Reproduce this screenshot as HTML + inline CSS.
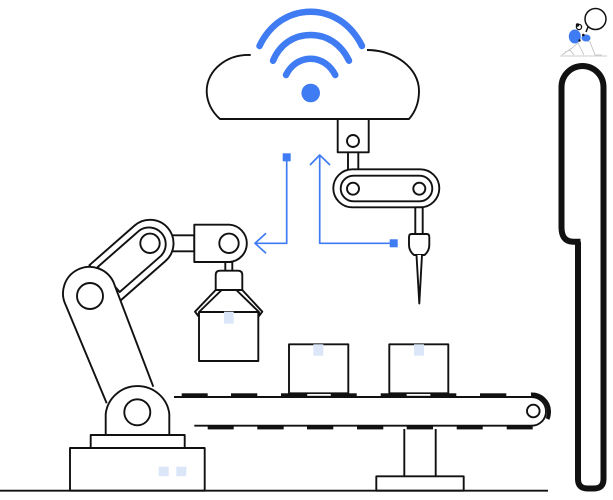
<!DOCTYPE html>
<html><head><meta charset="utf-8"><style>html,body{margin:0;padding:0;background:#fff}svg{display:block}</style></head><body>
<svg width="613" height="500" viewBox="0 0 613 500" xmlns="http://www.w3.org/2000/svg" fill="none" stroke="#111" stroke-width="1.9" stroke-linejoin="round">
<rect width="613" height="500" fill="#fff" stroke="none"/>

<!-- cloud -->
<path d="M250.7 55C227 54 206.7 70 206.7 91C206.7 102 212 112 220 119H409C416 111 419 101 419 91C419 68 395 50 367 50" fill="#fff"/>
<!-- wifi -->
<g stroke="#3f7bf3" stroke-width="6.5" stroke-linecap="round">
<path d="M259.5 46C270 24 289 11.7 310.7 11.7C332 11.7 351 24 362 46"/>
<path d="M273 60.7C280 44 294 35 310.7 35C327 35 341 44 349 60.7"/>
<path d="M286 75C291 65 300 58.7 310.7 58.7C321 58.7 330 65 335.3 75"/>
</g>
<circle cx="310.7" cy="93" r="9.3" fill="#3f7bf3" stroke="none"/>

<!-- top robot -->
<rect x="348" y="152" width="10.3" height="18" fill="#fff"/>
<rect x="337.7" y="119" width="31" height="33.3" fill="#fff"/>
<circle cx="353" cy="141" r="6" fill="#fff"/>
<rect x="333.3" y="169.3" width="106" height="38" rx="19" fill="#fff"/>
<rect x="340.7" y="175.7" width="91.6" height="25.6" rx="12.8" fill="#fff"/>
<circle cx="353" cy="188.7" r="6" fill="#fff"/>
<circle cx="419.3" cy="188.7" r="6" fill="#fff"/>
<rect x="415.3" y="207.3" width="7.4" height="27" fill="#fff"/>
<path d="M411.5 234H426.8Q429.3 234 429.3 237V245Q429.3 251 424.5 255H414Q409 251 409 245V237Q409 234 411.5 234Z" fill="#fff"/>
<path d="M416.5 255L419.3 303.5L422 255" fill="#fff"/>

<!-- blue connectors -->
<g stroke="#3f7bf3" stroke-width="1.7">
<path d="M286.7 157V243.3H255"/>
<path d="M266 233.3L255 243.3L266 253.3"/>
<path d="M393.7 243.3H319.7V155"/>
<path d="M310 165L319.7 155L330 165"/>
</g>
<rect x="282.7" y="153.3" width="8" height="8" fill="#3f7bf3" stroke="none"/>
<rect x="389.7" y="239.3" width="8" height="8" fill="#3f7bf3" stroke="none"/>

<!-- left robot -->
<rect x="172" y="235.3" width="22.3" height="16" fill="#fff"/>
<g fill="#fff">
<path d="M89.4 265.2L134.5 225.6A23.5 23.5 0 0 1 165.5 261L120.4 300.6Z"/>
<path d="M97.7 267L139 230.8A16.7 16.7 0 0 1 161 255.8L119.7 292Z"/>
<circle cx="150" cy="243.3" r="9.7"/>
<path d="M194.3 224.7H229.5A18.7 18.7 0 0 1 229.5 262H194.3Z"/>
<circle cx="229" cy="243.3" r="9.7"/>
<rect x="225.3" y="262" width="7" height="9"/>
<!-- box -->
<rect x="199" y="312" width="59.3" height="49"/>
<path d="M221.7 290L199 312L198.3 316L195 311.7L215.7 290Z"/>
<path d="M236.3 290L259 312L259 316L262.3 311.7L242.3 290Z"/>
<path d="M215.7 290V275Q215.7 270.7 220 270.7H238Q242.3 270.7 242.3 275V290Z"/>
<path d="M106.7 403.3L65.7 305A25.7 25.7 0 0 1 113.3 281.7L153.3 386.7"/>
<path d="M105.7 435V414A32 31.5 0 0 1 169.3 414V435Z"/>
<circle cx="90" cy="296" r="13"/>
<circle cx="137.3" cy="412.3" r="13"/>
<rect x="90.7" y="435" width="94" height="13"/>
<rect x="70" y="448" width="134.7" height="42.7"/>
</g>
<g fill="#dbe6f8" stroke="none">
<rect x="224" y="311.7" width="9.7" height="12"/>
<rect x="158.7" y="466.7" width="10" height="9.5"/>
<rect x="176.3" y="466.7" width="10" height="9.5"/>
</g>

<!-- boxes on conveyor -->
<rect x="289" y="344.3" width="59.3" height="49" fill="#fff"/>
<rect x="389.3" y="344.3" width="59" height="49" fill="#fff"/>
<g fill="#dbe6f8" stroke="none">
<rect x="313.3" y="344.3" width="10" height="11.4"/>
<rect x="414" y="344.3" width="10" height="11.4"/>
</g>

<!-- conveyor -->
<path d="M174 397H531.7A14.3 14.3 0 0 1 531.7 425.7H194.3"/>
<path d="M531 394.5A17 17 0 0 1 549 411Q549 416 547.5 419" stroke-width="4"/>
<circle cx="533.3" cy="411" r="6.3" fill="#fff"/>
<g fill="#111" stroke="none">
<rect x="181.7" y="393.3" width="26" height="4"/>
<rect x="231" y="393.3" width="26.3" height="4"/>
<rect x="281" y="393.3" width="26.3" height="4"/>
<rect x="330.7" y="393.3" width="26" height="4"/>
<rect x="380.7" y="393.3" width="26" height="4"/>
<rect x="430.3" y="393.3" width="26" height="4"/>
<rect x="480" y="393.3" width="26.3" height="4"/>
<rect x="307.3" y="392.5" width="23.4" height="4.8"/>
<rect x="406.7" y="392.5" width="23.6" height="4.8"/>
<rect x="207.7" y="425.7" width="26" height="3.7"/>
<rect x="257.3" y="425.7" width="26.4" height="3.7"/>
<rect x="307" y="425.7" width="26.3" height="3.7"/>
<rect x="357" y="425.7" width="26.3" height="3.7"/>
<rect x="406.7" y="425.7" width="26.3" height="3.7"/>
<rect x="456.7" y="425.7" width="26" height="3.7"/>
<rect x="506.7" y="425.7" width="26" height="3.7"/>
</g>
<rect x="307.3" y="394" width="23.4" height="1.8" fill="#fff" stroke="none"/>
<rect x="406.7" y="394" width="23.6" height="1.8" fill="#fff" stroke="none"/>

<!-- stand -->
<path d="M404.3 429V476.3M435.7 429V476.3"/>
<rect x="376.3" y="476.3" width="87.4" height="14.4" fill="#fff"/>
<path d="M0 490.7H548"/>

<!-- right tall shape -->
<path d="M580.5 241.7H573Q561.5 241.7 561.5 227V87A21 21 0 0 1 603.5 87V479Q603.5 488.5 594 488.5H587.5Q578 488.5 578 479V241.7" stroke-width="6"/>

<!-- small person -->
<circle cx="595.5" cy="19" r="10.5" stroke-width="1.5" fill="#fff"/>
<path d="M588 27L586 32" stroke-width="1.5"/>
<path d="M560 56H607" stroke="#bbb" stroke-width=".8"/>
<g stroke="#bbb" stroke-width=".8" fill="#fff">
<path d="M562 55L572 48L578 43L584 55"/>
<path d="M584 40L590 42L595 55H602"/>
<path d="M574 55L570 50L565 52"/>
</g>
<ellipse cx="574.8" cy="36.5" rx="6" ry="7" fill="#3f7bf3" stroke="none"/>
<ellipse cx="586" cy="38" rx="4.5" ry="3.5" fill="#3f7bf3" stroke="none"/>
<circle cx="579" cy="27" r="2.6" fill="#fff" stroke="#111" stroke-width="1.3"/>
<circle cx="577.5" cy="25" r="1.7" fill="#111" stroke="none"/>
<circle cx="583.3" cy="35" r="1.3" fill="#111" stroke="none"/>
<circle cx="579.5" cy="40.5" r="1.2" fill="#111" stroke="none"/>
</svg>
</body></html>
